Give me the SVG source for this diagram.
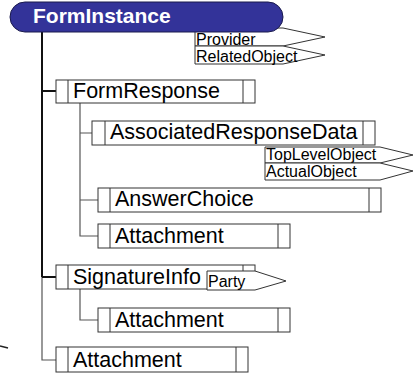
<svg xmlns="http://www.w3.org/2000/svg" width="415" height="386" viewBox="0 0 415 386">
<style>
.box{fill:#fff;stroke:#333;stroke-width:1}
.div{stroke:#333;stroke-width:1}
.lbl{font-family:"Liberation Sans",Arial,sans-serif;font-size:21.5px;fill:#000}
.flag{fill:#fff;stroke:#333;stroke-width:1}
.flbl{font-family:"Liberation Sans",Arial,sans-serif;font-size:16px;fill:#000}
.conn{fill:none;stroke:#555;stroke-width:1.2}
.main{fill:none;stroke:#111;stroke-width:2}
</style>
<rect width="415" height="386" fill="#fff"/>
<g id="connectors">
<path class="main" d="M42,32 V277"/>
<path class="conn" d="M42,277 V360 H56"/>
<path class="main" d="M42,91 H56"/>
<path class="main" d="M42,277 H56"/>
<path class="conn" d="M80,103 V236 H98 M80,133 H92 M80,200 H98"/>
<path class="conn" d="M80,289 V320 H98"/>
<path d="M0,346 L8,348" fill="none" stroke="#222" stroke-width="1.6"/>
</g>
<g id="flags-forminstance">
<polygon class="flag" points="195,28 283,28 325,37 283,46 195,46"/>
<text class="flbl" x="196" y="44.5">Provider</text>
<polygon class="flag" points="195,46 283,46 325,55 283,64 195,64"/>
<text class="flbl" x="196" y="61.5">RelatedObject</text>
</g>
<g id="FormInstance">
<rect x="10" y="2" width="273" height="30" rx="15" fill="#333399" stroke="#1a1a4d" stroke-width="1"/>
<text x="33" y="23" font-family="'Liberation Sans',Arial,sans-serif" font-size="21" font-weight="bold" fill="#fff">FormInstance</text>
</g>
<g id="FormResponse">
<rect class="box" x="56" y="80" width="199" height="23"/>
<path class="div" d="M68,80 V103 M243,80 V103"/>
<text class="lbl" x="73" y="98">FormResponse</text>
</g>
<g id="AssociatedResponseData">
<rect class="box" x="92" y="121" width="283" height="24"/>
<path class="div" d="M105,121 V145 M363,121 V145"/>
<text class="lbl" x="110" y="139">AssociatedResponseData</text>
</g>
<g id="flags-ard">
<polygon class="flag" points="265,147 380,147 413,155 380,163 265,163"/>
<text class="flbl" x="266" y="160">TopLevelObject</text>
<polygon class="flag" points="265,163 380,163 413,171 380,180 265,180"/>
<text class="flbl" x="266" y="177">ActualObject</text>
</g>
<g id="AnswerChoice">
<rect class="box" x="98" y="188" width="283" height="24"/>
<path class="div" d="M110,188 V212 M369,188 V212"/>
<text class="lbl" x="115" y="206">AnswerChoice</text>
</g>
<g id="Attachment1">
<rect class="box" x="98" y="224" width="192" height="24"/>
<path class="div" d="M110,224 V248 M278,224 V248"/>
<text class="lbl" x="115" y="243">Attachment</text>
</g>
<g id="SignatureInfo">
<rect class="box" x="56" y="265" width="199" height="24"/>
<path class="div" d="M68,265 V289 M243,265 V289"/>
<text class="lbl" x="73" y="284">SignatureInfo</text>
<polygon class="flag" points="207,271 255,271 286,281 255,290 207,290"/>
<text class="flbl" x="208" y="287">Party</text>
</g>
<g id="Attachment2">
<rect class="box" x="98" y="308" width="192" height="24"/>
<path class="div" d="M110,308 V332 M278,308 V332"/>
<text class="lbl" x="115" y="327">Attachment</text>
</g>
<g id="Attachment3">
<rect class="box" x="56" y="347" width="192" height="25"/>
<path class="div" d="M68,347 V372 M236,347 V372"/>
<text class="lbl" x="73" y="367">Attachment</text>
</g>
</svg>
